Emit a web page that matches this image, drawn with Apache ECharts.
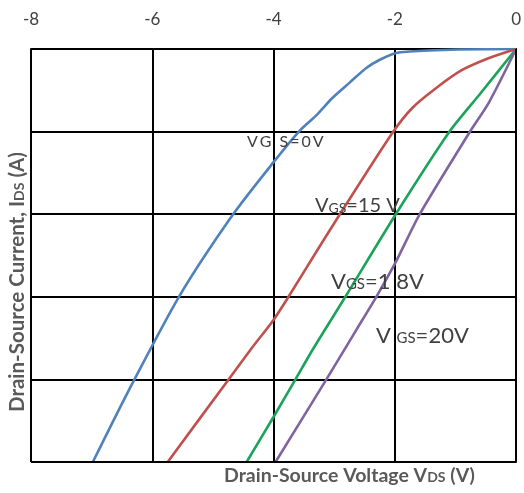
<!DOCTYPE html>
<html>
<head>
<meta charset="utf-8">
<script src="https://cdn.jsdelivr.net/npm/echarts@6/dist/echarts.min.js"></script>
<style>html,body{margin:0;padding:0;background:#fff;}#c{width:524px;height:493px;}</style>
</head>
<body>
<div id="c"></div>
<script>
// Drain-source voltage ticks (top axis)
var xTicks = [-8, -6, -4, -2, 0];
// Curves: [VDS, IDS]
var vgs0 = [[0,0],[-0.94,-0.006],[-1.43,-0.018],[-1.975,-0.048],[-2.255,-0.133],[-2.47,-0.23],[-2.75,-0.41],[-3.03,-0.593],[-3.29,-0.8],[-3.57,-0.99],[-4.0,-1.37],[-4.675,-2.01],[-5.56,-3.0],[-6.4,-4.15],[-6.98,-5.0]];
var vgs15 = [[0,0],[-0.444,-0.109],[-0.889,-0.254],[-1.317,-0.472],[-1.712,-0.714],[-2.041,-1.017],[-2.914,-2.01],[-3.276,-2.433],[-3.753,-3.0],[-4.0,-3.28],[-4.346,-3.608],[-4.741,-4.0],[-5.745,-5.0]];
var vgs18 = [[0,0],[-0.609,-0.557],[-1.103,-1.005],[-1.992,-2.01],[-2.815,-3.0],[-3.358,-3.644],[-3.638,-4.0],[-4.0,-4.455],[-4.444,-5.0]];
var vgs20 = [[0,0],[-0.444,-0.642],[-0.774,-1.017],[-1.597,-2.01],[-1.992,-2.59],[-2.305,-3.0],[-2.634,-3.4],[-3.128,-4.0],[-3.967,-5.0]];

var chart = echarts.init(document.getElementById('c'));
var FONT = 'Lato';
var GREY = '#404040';
function line(name, data, color) {
  return {
    name: name, type: 'line', data: data, showSymbol: false, smooth: 0.25,
    lineStyle: {color: color, width: 2.6}, z: 3
  };
}
// spaced label for "VG S=0V"
var spacedChars = ['V','G',' ','S','=','0','V'];
var spacedText = spacedChars.map(function (c) { return '{c|' + c + '}'; }).join('');

chart.setOption({
  animation: false,
  grid: {left: 31, right: 7, top: 49, bottom: 31, show: false},
  xAxis: {
    type: 'value', position: 'top', min: -8, max: 0, interval: 2,
    axisLine: {show: true, lineStyle: {color: '#000', width: 2}},
    axisTick: {show: false},
    axisLabel: {color: GREY, fontSize: 17, fontFamily: FONT, margin: 21,
      formatter: function (v) { return xTicks.indexOf(v) >= 0 ? String(v) : ''; }},
    splitLine: {show: true, lineStyle: {color: '#000', width: 2}}
  },
  yAxis: {
    type: 'value', min: -5, max: 0, interval: 1,
    axisLine: {show: true, lineStyle: {color: '#000', width: 2}},
    axisTick: {show: false},
    axisLabel: {show: false},
    splitLine: {show: true, lineStyle: {color: '#000', width: 2}}
  },
  series: [
    line('VGS=0V', vgs0, '#4F81BD'),
    line('VGS=15V', vgs15, '#C0504D'),
    line('VGS=18V', vgs18, '#1BA35A'),
    line('VGS=20V', vgs20, '#8064A2'),
    {type: 'line', data: [], markLine: {silent: true, symbol: 'none', label: {show: false},
      lineStyle: {color: '#000', width: 2, type: 'solid'},
      data: [{xAxis: 0}, {yAxis: -5}]}}
  ],
  graphic: [
    {type: 'text', left: 247, top: 134, z: 10, style: {text: spacedText,
      rich: {c: {fontSize: 16, fontFamily: FONT, fill: GREY, padding: [0, 2, 0, 0]}}}},
    {type: 'text', left: 315, top: 196, z: 10, style: {text: '{b|V}{s|GS}{b|=15 V}',
      rich: {b: {fontSize: 20, fontFamily: FONT, fill: GREY}, s: {fontSize: 14, fontFamily: FONT, fill: GREY, padding: [4,0,0,0]}}}},
    {type: 'text', left: 331, top: 271, z: 10, style: {text: '{b|V}{s|GS}{b|=1 8V}',
      rich: {b: {fontSize: 22, fontFamily: FONT, fill: GREY}, s: {fontSize: 15, fontFamily: FONT, fill: GREY, padding: [5,0,0,0]}}}},
    {type: 'text', left: 376, top: 325, z: 10, style: {text: '{b|V }{s|GS}{b|=20V}',
      rich: {b: {fontSize: 22, fontFamily: FONT, fill: GREY}, s: {fontSize: 15, fontFamily: FONT, fill: GREY, padding: [5,0,0,0]}}}},
    {type: 'text', left: 224, top: 466, z: 10, style: {text: '{b|Drain-Source Voltage V}{s|DS}{b| (V)}',
      rich: {b: {fontSize: 19.5, fontWeight: 'bold', fontFamily: FONT, fill: '#595959'}, s: {fontSize: 14, fontWeight: 'bold', fontFamily: FONT, fill: '#595959', padding: [3,0,0,0]}}}},
    {type: 'text', x: 7, y: 412, rotation: Math.PI / 2, z: 10, style: {text: '{b|Drain-Source Current, I}{s|DS}{b| (A)}',
      rich: {b: {fontSize: 20.5, fontWeight: 'bold', fontFamily: FONT, fill: '#595959'}, s: {fontSize: 14, fontWeight: 'bold', fontFamily: FONT, fill: '#595959', padding: [3,0,0,0]}}}}
  ]
});
</script>
</body>
</html>
